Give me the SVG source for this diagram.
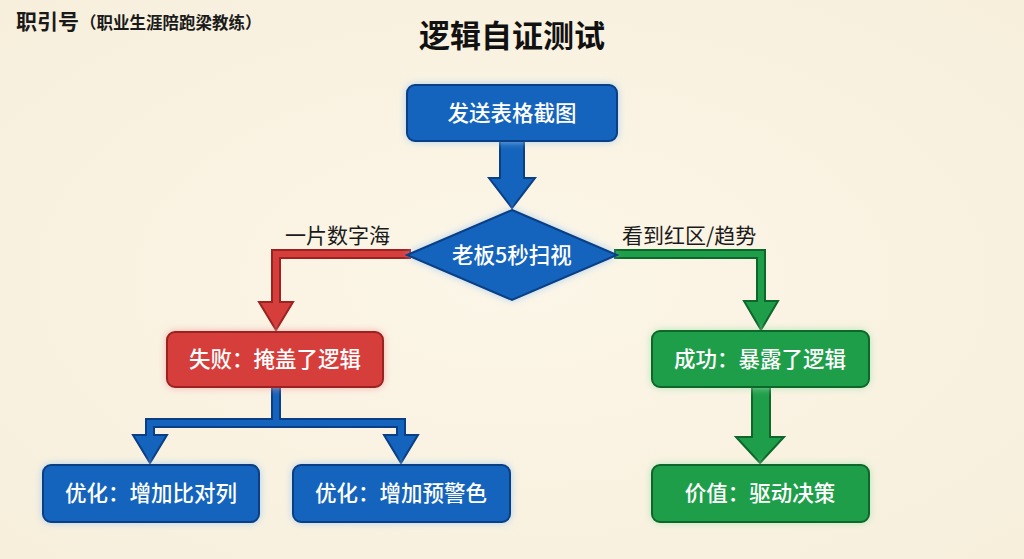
<svg xmlns="http://www.w3.org/2000/svg" width="1024" height="559" viewBox="0 0 1024 559">
<defs>
<style>
.t{font-family:"Noto Sans CJK SC","Noto Sans",sans-serif}
.box{fill:#fff;font-size:21.5px;font-weight:500;text-anchor:middle;font-family:"Noto Sans CJK SC","Noto Sans",sans-serif}
.lbl{fill:#1a1a1a;font-size:21px;font-family:"Noto Sans CJK SC","Noto Sans",sans-serif}
.blue{fill:#1463BC;stroke:#0A3F85;stroke-width:2}
.red{fill:#D63E3C;stroke:#9C2222;stroke-width:2}
.green{fill:#1F9E4A;stroke:#0D672B;stroke-width:2}
</style>
<filter id="glowB" x="-20%" y="-40%" width="140%" height="180%">
<feGaussianBlur stdDeviation="4"/>
</filter>
<radialGradient id="bg" cx="50%" cy="50%" r="70%">
<stop offset="0" stop-color="#FCF6E8"/>
<stop offset="1" stop-color="#F7EFDC"/>
</radialGradient>
</defs>
<rect width="1024" height="559" fill="url(#bg)"/>
<text class="t" x="16" y="29" font-size="21" font-weight="bold" fill="#1a1a1a">职引号<tspan font-size="16.5" dx="1">（职业生涯陪跑梁教练）</tspan></text>
<text class="t" x="512" y="47" font-size="31" font-weight="bold" fill="#111" text-anchor="middle">逻辑自证测试</text>

<g id="connectors">
<path class="blue" d="M500,141 L500,178 L489,178 L512,208 L535,178 L524,178 L524,141 Z"/>
<path class="red" d="M410,250 L272,250 L272,302 L259,302 L276,330 L293,302 L280,302 L280,258 L410,258 Z"/>
<path class="green" d="M615,250 L765,250 L765,301 L778,301 L761,330 L744,301 L757,301 L757,258 L615,258 Z"/>
<path class="blue" d="M272,387 L272,419 L146,419 L146,435 L133,435 L150,463 L167,435 L154,435 L154,427 L397,427 L397,435 L384,435 L401,463 L418,435 L405,435 L405,419 L280,419 L280,387 Z"/>
<path class="green" d="M752,387 L752,437 L736,437 L760,463 L784,437 L770,437 L770,387 Z"/>
<text class="lbl" x="285" y="243">一片数字海</text>
<text class="lbl" x="622" y="243">看到红区/趋势</text>
</g>

<g id="n1">
<rect x="407" y="85" width="210" height="56" rx="8" fill="#9CC8F0" filter="url(#glowB)"/>
<rect class="blue" x="407" y="85" width="210" height="56" rx="8"/>
<text class="box" x="512" y="121">发送表格截图</text>
</g>
<g id="n2">
<polygon points="512,210 617,255 512,300 407,255" fill="#9CC8F0" filter="url(#glowB)"/>
<polygon class="blue" points="512,210 617,255 512,300 407,255"/>
<text class="box" x="512" y="263">老板5秒扫视</text>
</g>
<g id="n3">
<rect x="167" y="332" width="216" height="55" rx="8" fill="#F2A0A0" filter="url(#glowB)"/>
<rect class="red" x="167" y="332" width="216" height="55" rx="8"/>
<text class="box" x="275" y="367">失败：掩盖了逻辑</text>
</g>
<g id="n4">
<rect x="652" y="331" width="217" height="56" rx="8" fill="#A6E0B0" filter="url(#glowB)"/>
<rect class="green" x="652" y="331" width="217" height="56" rx="8"/>
<text class="box" x="760" y="367">成功：暴露了逻辑</text>
</g>
<g id="n5">
<rect x="43" y="465" width="216" height="57" rx="8" fill="#9CC8F0" filter="url(#glowB)"/>
<rect class="blue" x="43" y="465" width="216" height="57" rx="8"/>
<text class="box" x="151" y="501">优化：增加比对列</text>
</g>
<g id="n6">
<rect x="293" y="465" width="217" height="57" rx="8" fill="#9CC8F0" filter="url(#glowB)"/>
<rect class="blue" x="293" y="465" width="217" height="57" rx="8"/>
<text class="box" x="401" y="501">优化：增加预警色</text>
</g>
<g id="n7">
<rect x="652" y="465" width="217" height="57" rx="8" fill="#A6E0B0" filter="url(#glowB)"/>
<rect class="green" x="652" y="465" width="217" height="57" rx="8"/>
<text class="box" x="760" y="501">价值：驱动决策</text>
</g>
</svg>
